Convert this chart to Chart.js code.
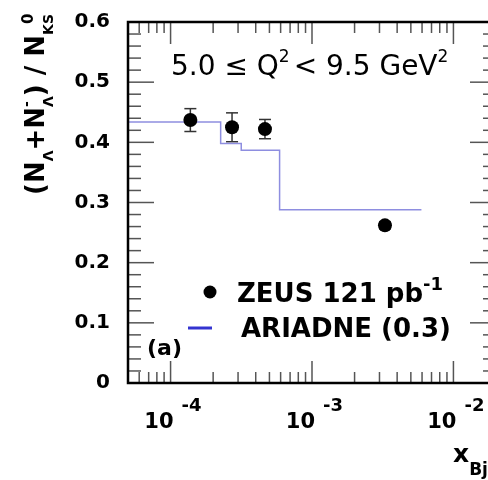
<!DOCTYPE html>
<html>
<head>
<meta charset="utf-8">
<script src="https://cdn.jsdelivr.net/npm/chart.js@4/dist/chart.umd.min.js"></script>
<style>
  html, body { margin: 0; padding: 0; background: #fff; overflow: hidden; }
  canvas { display: block; }
</style>
</head>
<body>
<canvas id="ratioChart" width="520" height="480"></canvas>
<script>
// ZEUS measurement, Lambda / K0s ratio vs x
const zeusX = [1.38e-4, 2.72e-4, 4.65e-4, 3.28e-3];
const zeusY = [0.437, 0.425, 0.422, 0.262];
const zeusErr = [0.019, 0.024, 0.016, 0.006];

// ARIADNE prediction, histogram bin edges and contents
const ariadneEdges = [5e-5, 2.26e-4, 3.16e-4, 5.9e-4, 5.94e-3];
const ariadneY = [0.434, 0.398, 0.387, 0.288];

const yTicks = [0, 0.1, 0.2, 0.3, 0.4, 0.5, 0.6];
const xDecades = [-4, -3, -2];

const FONT = "'DejaVu Sans', sans-serif";

const ariadneSteps = ariadneEdges.map((x, i) => ({
  x: x,
  y: ariadneY[Math.min(i, ariadneY.length - 1)]
}));

// draws a row of text pieces (sub/superscripts) starting at x
function textRun(ctx, parts, x, y) {
  let cx = x;
  for (const p of parts) {
    ctx.font = (p.bold ? 'bold ' : '') + p.size + 'px ' + FONT;
    ctx.fillText(p.t, cx, y + (p.dy || 0));
    if (!p.keep) cx += ctx.measureText(p.t).width + (p.gap || 0);
  }
  return cx;
}

function line(ctx, x1, y1, x2, y2) {
  ctx.beginPath();
  ctx.moveTo(x1, y1);
  ctx.lineTo(x2, y2);
  ctx.stroke();
}

const decor = {
  id: 'decor',
  beforeDatasetsDraw(chart) {
    const ctx = chart.ctx;
    const xs = chart.scales.x, ys = chart.scales.y;
    ctx.save();
    ctx.strokeStyle = '#333';
    ctx.lineWidth = 1.5;
    zeusX.forEach((x, i) => {
      const px = xs.getPixelForValue(x);
      const top = ys.getPixelForValue(zeusY[i] + zeusErr[i]);
      const bot = ys.getPixelForValue(zeusY[i] - zeusErr[i]);
      line(ctx, px, top, px, bot);
      line(ctx, px - 6, top, px + 6, top);
      line(ctx, px - 6, bot, px + 6, bot);
    });
    ctx.restore();
  },
  afterDraw(chart) {
    const ctx = chart.ctx;
    const a = chart.chartArea;
    const xs = chart.scales.x, ys = chart.scales.y;
    ctx.save();

    // inward ticks on all four sides
    ctx.strokeStyle = '#555';
    ctx.lineWidth = 1.5;
    for (let i = 0; i <= 30; i++) {
      const py = ys.getPixelForValue(i * 0.02);
      const len = i % 5 === 0 ? 26 : 13;
      line(ctx, a.left, py, a.left + len, py);
      line(ctx, a.right, py, a.right - len, py);
    }
    for (let d = -5; d <= -2; d++) {
      for (let m = 1; m <= 9; m++) {
        const v = m * Math.pow(10, d);
        if (v < xs.min || v > xs.max) continue;
        const px = xs.getPixelForValue(v);
        const len = m === 1 ? 22 : 11;
        line(ctx, px, a.bottom, px, a.bottom - len);
        line(ctx, px, a.top, px, a.top + len);
      }
    }

    // frame
    ctx.strokeStyle = '#000';
    ctx.lineWidth = 2.5;
    ctx.strokeRect(a.left, a.top, a.right - a.left, a.bottom - a.top);

    ctx.fillStyle = '#000';
    ctx.textBaseline = 'alphabetic';

    // x tick labels 10^n
    xDecades.forEach(d => {
      const px = xs.getPixelForValue(Math.pow(10, d));
      ctx.textAlign = 'right';
      ctx.font = 'bold 21px ' + FONT;
      ctx.fillText('10', px + 3, 428);
      ctx.textAlign = 'left';
      ctx.font = 'bold 18px ' + FONT;
      ctx.fillText(String(d), px + 11, 411);
    });
    ctx.textAlign = 'left';

    // x axis title
    textRun(ctx, [
      { t: 'x', size: 25, bold: true },
      { t: 'Bj', size: 17, bold: true, dy: 13 }
    ], 453, 462);

    // y axis title, rotated
    ctx.save();
    ctx.translate(44, 195);
    ctx.rotate(-Math.PI / 2);
    textRun(ctx, [
      { t: '(N', size: 26, bold: true },
      { t: 'Λ', size: 14, bold: true, dy: 9 },
      { t: '+N', size: 26, bold: true },
      { t: '-', size: 14, bold: true, dy: -13, keep: true },
      { t: 'Λ', size: 14, bold: true, dy: 9 },
      { t: ') / N', size: 26, bold: true },
      { t: 'K', size: 14, bold: true, dy: 9 },
      { t: '0', size: 15, bold: true, dy: -11, keep: true },
      { t: 'S', size: 14, bold: true, dy: 9 }
    ], 0, 0);
    ctx.restore();

    // kinematic range
    textRun(ctx, [
      { t: '5.0 ≤ Q', size: 28 },
      { t: '2', size: 17, dy: -13, gap: 4 },
      { t: '< 9.5 GeV', size: 28 },
      { t: '2', size: 17, dy: -13 }
    ], 171, 75);

    // legend
    const zeus = chart.data.datasets[0], ari = chart.data.datasets[1];
    ctx.beginPath();
    ctx.arc(210, 292, 6.5, 0, Math.PI * 2);
    ctx.fillStyle = zeus.pointBackgroundColor;
    ctx.fill();
    ctx.fillStyle = '#000';
    textRun(ctx, [
      { t: zeus.label, size: 26, bold: true },
      { t: '-1', size: 18, bold: true, dy: -12 }
    ], 237, 302);

    ctx.strokeStyle = '#3434d0';
    ctx.lineWidth = 3;
    line(ctx, 188, 328, 212, 328);
    textRun(ctx, [{ t: ari.label, size: 26, bold: true }], 241, 337);

    ctx.font = 'bold 22px ' + FONT;
    ctx.fillText('(a)', 147, 355);

    ctx.restore();
  }
};

new Chart(document.getElementById('ratioChart'), {
  type: 'scatter',
  data: {
    datasets: [
      {
        label: 'ZEUS 121 pb',
        data: zeusX.map((x, i) => ({ x: x, y: zeusY[i] })),
        pointRadius: 7,
        pointBackgroundColor: '#000',
        pointBorderColor: '#000',
        pointBorderWidth: 0,
        showLine: false
      },
      {
        label: 'ARIADNE (0.3)',
        type: 'line',
        data: ariadneSteps,
        stepped: 'before',
        borderColor: '#8e8ee0',
        borderWidth: 1.5,
        pointRadius: 0,
        fill: false
      }
    ]
  },
  options: {
    responsive: false,
    animation: false,
    devicePixelRatio: 1,
    layout: { padding: { top: 10, right: 24, left: 0, bottom: 0 } },
    plugins: { legend: { display: false }, tooltip: { enabled: false } },
    scales: {
      x: {
        type: 'logarithmic',
        min: 5e-5,
        max: 2e-2,
        ticks: { display: false },
        grid: { display: false },
        border: { display: false },
        afterFit(s) { s.height = 97; }
      },
      y: {
        min: 0,
        max: 0.6,
        afterBuildTicks(s) { s.ticks = yTicks.map(v => ({ value: v })); },
        ticks: {
          color: '#000',
          padding: 10,
          font: { family: FONT, size: 20, weight: 'bold' },
          callback: v => v === 0 ? '0' : v.toFixed(1)
        },
        grid: { display: false },
        border: { display: false },
        afterFit(s) { s.width = 128; }
      }
    }
  },
  plugins: [decor]
});
</script>
</body>
</html>
